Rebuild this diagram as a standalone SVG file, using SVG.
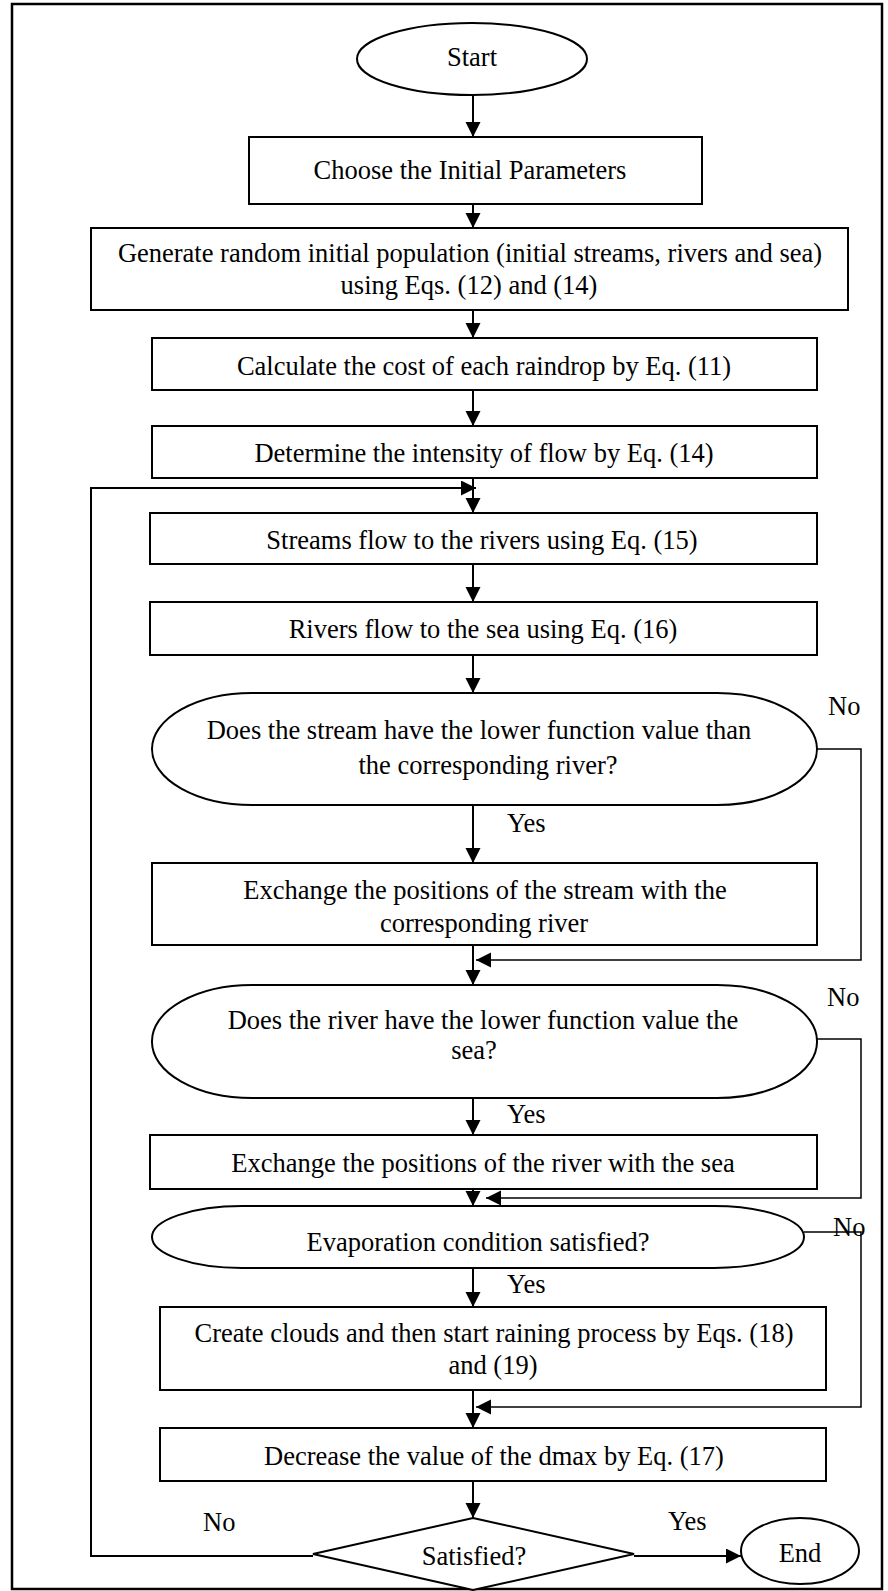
<svg xmlns="http://www.w3.org/2000/svg" width="888" height="1591" viewBox="0 0 888 1591">
<style>
.t{font-family:"Liberation Serif","Times New Roman",serif;font-size:26.5px;fill:#000;text-anchor:middle}
.l{font-family:"Liberation Serif","Times New Roman",serif;font-size:26.5px;fill:#000}
.s{fill:#fff;stroke:#000;stroke-width:2}
.c{fill:none;stroke:#000;stroke-width:2}
.r{fill:none;stroke:#000;stroke-width:1.5}
</style>
<defs>
<marker id="a" markerUnits="userSpaceOnUse" markerWidth="16" markerHeight="16" refX="15" refY="7.5" orient="auto"><path d="M0,0 L15,7.5 L0,15 z" fill="#000"/></marker>
</defs>
<rect x="12" y="4" width="870" height="1585" fill="#fff" stroke="#000" stroke-width="2.5"/>
<g id="connectors">
<line class="c" x1="473" y1="95" x2="473" y2="137" marker-end="url(#a)"/>
<line class="c" x1="473" y1="204" x2="473" y2="228" marker-end="url(#a)"/>
<line class="c" x1="473" y1="310" x2="473" y2="338" marker-end="url(#a)"/>
<line class="c" x1="473" y1="390" x2="473" y2="426" marker-end="url(#a)"/>
<line class="c" x1="473" y1="478" x2="473" y2="513" marker-end="url(#a)"/>
<line class="c" x1="473" y1="564" x2="473" y2="602" marker-end="url(#a)"/>
<line class="c" x1="473" y1="655" x2="473" y2="693" marker-end="url(#a)"/>
<line class="c" x1="473" y1="805" x2="473" y2="863" marker-end="url(#a)"/>
<line class="c" x1="473" y1="932" x2="473" y2="985" marker-end="url(#a)"/>
<line class="c" x1="473" y1="1090" x2="473" y2="1135" marker-end="url(#a)"/>
<line class="c" x1="473" y1="1189" x2="473" y2="1206" marker-end="url(#a)"/>
<line class="c" x1="473" y1="1262" x2="473" y2="1307" marker-end="url(#a)"/>
<line class="c" x1="473" y1="1390" x2="473" y2="1428" marker-end="url(#a)"/>
<line class="c" x1="473" y1="1481" x2="473" y2="1518" marker-end="url(#a)"/>
<path class="c" d="M313,1556 H91 V488 H476" marker-end="url(#a)"/>
<line class="c" x1="634" y1="1556" x2="741" y2="1556" marker-end="url(#a)"/>
<path class="r" d="M817,749 H861 V960 H476" marker-end="url(#a)"/>
<path class="r" d="M817,1039 H861 V1198 H486" marker-end="url(#a)"/>
<path class="r" d="M804,1232 H861 V1407 H476" marker-end="url(#a)"/>
</g>
<g id="start"><ellipse class="s" cx="472" cy="59" rx="115" ry="36"/><text class="t" x="472" y="66">Start</text></g>
<g id="choose"><rect class="s" x="249" y="137" width="453" height="67"/><text class="t" x="470" y="179">Choose the Initial Parameters</text></g>
<g id="generate"><rect class="s" x="91" y="228" width="757" height="82"/><text class="t" x="470" y="262">Generate random initial population (initial streams, rivers and sea)</text><text class="t" x="469" y="294">using Eqs. (12) and (14)</text></g>
<g id="calculate"><rect class="s" x="152" y="338" width="665" height="52"/><text class="t" x="484" y="375">Calculate the cost of each raindrop by Eq. (11)</text></g>
<g id="determine"><rect class="s" x="152" y="426" width="665" height="52"/><text class="t" x="484" y="462">Determine the intensity of flow by Eq. (14)</text></g>
<g id="streams"><rect class="s" x="150" y="513" width="667" height="51"/><text class="t" x="482" y="549">Streams flow to the rivers using Eq. (15)</text></g>
<g id="rivers"><rect class="s" x="150" y="602" width="667" height="53"/><text class="t" x="483" y="638">Rivers flow to the sea using Eq. (16)</text></g>
<g id="decision1"><rect class="s" x="152" y="693" width="665" height="112" rx="100" ry="56"/><text class="t" x="479" y="739">Does the stream have the lower function value than</text><text class="t" x="488" y="774">the corresponding river?</text></g>
<g id="exchange1"><rect class="s" x="152" y="863" width="665" height="82"/><text class="t" x="485" y="899">Exchange the positions of the stream with the</text><text class="t" x="484" y="932">corresponding river</text></g>
<g id="decision2"><rect class="s" x="152" y="985" width="665" height="113" rx="100" ry="56"/><text class="t" x="483" y="1029">Does the river have the lower function value the</text><text class="t" x="474" y="1059">sea?</text></g>
<g id="exchange2"><rect class="s" x="150" y="1135" width="667" height="54"/><text class="t" x="483" y="1172">Exchange the positions of the river with the sea</text></g>
<g id="decision3"><rect class="s" x="152" y="1206" width="652" height="62" rx="90" ry="31"/><text class="t" x="478" y="1251">Evaporation condition satisfied?</text></g>
<g id="create"><rect class="s" x="160" y="1307" width="666" height="83"/><text class="t" x="494" y="1342">Create clouds and then start raining process by Eqs. (18)</text><text class="t" x="493" y="1374">and (19)</text></g>
<g id="decrease"><rect class="s" x="160" y="1428" width="666" height="53"/><text class="t" x="494" y="1465">Decrease the value of the dmax by Eq. (17)</text></g>
<g id="satisfied"><polygon class="s" points="473,1518 634,1554 473,1590 313,1554"/><text class="t" x="474" y="1565">Satisfied?</text></g>
<g id="end"><ellipse class="s" cx="800" cy="1551" rx="59" ry="33"/><text class="t" x="800" y="1562">End</text></g>
<g id="labels">
<text class="l" x="828" y="715">No</text>
<text class="l" x="507" y="832">Yes</text>
<text class="l" x="827" y="1006">No</text>
<text class="l" x="507" y="1123">Yes</text>
<text class="l" x="833" y="1236">No</text>
<text class="l" x="507" y="1293">Yes</text>
<text class="l" x="203" y="1531">No</text>
<text class="l" x="668" y="1530">Yes</text>
</g>
</svg>
